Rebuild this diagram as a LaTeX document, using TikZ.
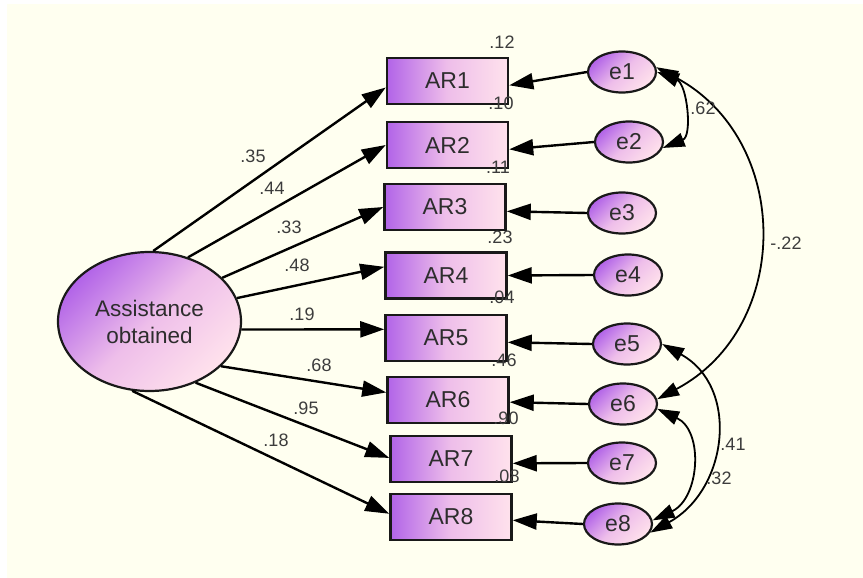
\documentclass[tikz,border=0pt]{standalone}
\usepackage{fontspec}
\setmainfont{Liberation Sans}
\usetikzlibrary{shapes.geometric,arrows.meta}
\definecolor{cream}{RGB}{255,255,240}
\definecolor{purpleL}{RGB}{178,100,232}
\definecolor{pinkM}{RGB}{238,190,234}
\definecolor{pinkR}{RGB}{255,226,236}
\definecolor{txt}{RGB}{45,45,45}
\definecolor{lbl}{RGB}{60,60,60}
\begin{document}
\begin{tikzpicture}[x=1pt,y=-1pt,
  obs/.style={draw=black!90,line width=2.5pt,rectangle,minimum width=121pt,minimum height=46pt,inner sep=0pt,
    left color=purpleL,right color=pinkR,middle color=pinkM,font=\fontsize{23}{26}\selectfont,text=txt},
  err/.style={draw=black!90,line width=2.2pt,ellipse,minimum width=68pt,minimum height=41pt,inner sep=0pt,
    top color=purpleL,bottom color=pinkR,middle color=pinkM,shading angle=45,font=\fontsize{23}{26}\selectfont,text=txt},
  lat/.style={draw=black!90,line width=2.2pt,ellipse,minimum width=183pt,minimum height=139pt,inner sep=0pt,
    top color=purpleL,bottom color=pinkR,middle color=pinkM,shading angle=45,font=\fontsize{22.5}{27}\selectfont,text=txt,align=center},
  reg/.style={line width=2.4pt,-{Triangle[length=24pt,width=16pt]}},
  cov/.style={line width=1.8pt,{Triangle[length=22pt,width=14pt]}-{Triangle[length=22pt,width=14pt]}},
  lab/.style={font=\fontsize{18}{20}\selectfont,text=lbl,inner sep=0pt}
]
\useasboundingbox (0,0) rectangle (863,578);
\fill[white] (0,0) rectangle (863,578);
\fill[cream] (7,4) rectangle (863,578);

% latent
\node[lat] (A) at (149.5,321.5) {Assistance\\obtained};

% observed
\node[obs] (AR1) at (447.5,81) {AR1};
\node[obs] (AR2) at (447.5,145) {AR2};
\node[obs] (AR3) at (445,207) {AR3};
\node[obs] (AR4) at (446,275.5) {AR4};
\node[obs] (AR5) at (446,338) {AR5};
\node[obs] (AR6) at (448,400) {AR6};
\node[obs] (AR7) at (451,459) {AR7};
\node[obs] (AR8) at (451,517) {AR8};

% errors
\node[err] (e1) at (622,72) {e1};
\node[err] (e2) at (629,142) {e2};
\node[err] (e3) at (622,213) {e3};
\node[err] (e4) at (628,275) {e4};
\node[err] (e5) at (627,344) {e5};
\node[err] (e6) at (623,404) {e6};
\node[err] (e7) at (622,463) {e7};
\node[err] (e8) at (618,524) {e8};

% regression paths
\draw[reg] (A.87) -- (AR1.186);
\draw[reg] (A.59) -- (AR2.180);
\draw[reg] (A.31.5) -- (AR3.180);
\draw[reg] (A.15) -- (AR4.172);
\draw[reg] (A.-5) -- (AR5.172.5);
\draw[reg] (A.-32) -- (AR6.173);
\draw[reg] (A.-53.5) -- (AR7.179);
\draw[reg] (A.-104) -- (AR8.177);

% error paths
\draw[reg] (e1.west) -- (AR1.-4);
\draw[reg] (e2.west) -- (AR2.-4);
\draw[reg] (e3.west) -- (AR3.-4);
\draw[reg] (e4.west) -- (AR4.east);
\draw[reg] (e5.west) -- (AR5.-4);
\draw[reg] (e6.west) -- (AR6.-2);
\draw[reg] (e7.west) -- (AR7.-4);
\draw[reg] (e8.west) -- (AR8.-3);

% covariances
\draw[cov] (e1.0) .. controls +(30,12) and +(30,-12) .. (e2.-10);
\draw[cov] (e1.8) .. controls +(136,72) and +(136,-72) .. (e6.8);
\draw[cov] (e5.0) .. controls +(78,43) and +(78,-43) .. (e8.-15);
\draw[cov] (e6.-8) .. controls +(47,22) and +(47,-22) .. (e8.6);

% labels on paths
\node[lab] (p1) at (253,156) {.35};
\node[lab] (p2) at (272,188) {.44};
\node[lab] (p3) at (289,227) {.33};
\node[lab] (p4) at (297,265) {.48};
\node[lab] (p5) at (302,314) {.19};
\node[lab] (p6) at (319,365) {.68};
\node[lab] (p7) at (306,408) {.95};
\node[lab] (p8) at (276,440) {.18};
\node[lab] (c1) at (703,108) {.62};
\node[lab] (c2) at (786,243) {-.22};
\node[lab] (c3) at (733,444) {.41};
\node[lab] (c4) at (719,478) {.32};

% squared multiple correlations
\node[lab] (r1) at (502,42) {.12};
\node[lab] (r2) at (501,103) {.10};
\node[lab] (r3) at (498,167) {.11};
\node[lab] (r4) at (500,237) {.23};
\node[lab] (r5) at (502,297) {.04};
\node[lab] (r6) at (504,360) {.46};
\node[lab] (r7) at (506,418) {.90};
\node[lab] (r8) at (507,476) {.08};
\end{tikzpicture}
\end{document}
